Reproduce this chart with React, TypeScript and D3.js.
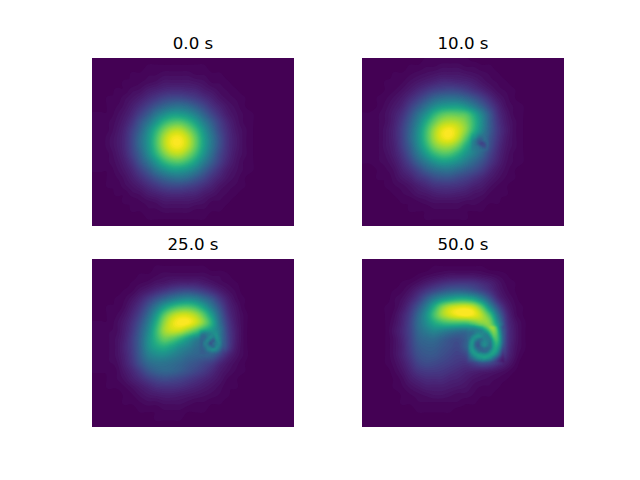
import React from "react";
import * as d3 from "d3";

// Coarse field values (percent of panel maximum).
const titles = ["0.0 s", "10.0 s", "25.0 s", "50.0 s"];

const field0 = [
[0,0,0,0,0,0,0,0,0,0,0,0,0,0,0,0,0,0,0,0,0],
[0,0,0,0,0,0,1,1,1,1,1,1,1,1,0,0,0,0,0,0,0],
[0,0,0,0,1,1,2,2,3,3,3,3,2,2,1,1,0,0,0,0,0],
[0,0,0,1,1,2,3,4,6,6,6,6,5,4,2,2,1,0,0,0,0],
[0,0,1,1,3,4,7,9,11,12,12,11,10,7,5,3,2,1,0,0,0],
[0,1,1,3,5,8,12,16,20,22,22,20,17,13,9,5,3,2,1,0,0],
[0,1,2,4,8,13,19,26,32,36,37,34,28,21,14,9,5,3,1,0,0],
[1,1,3,6,11,19,28,39,48,54,54,50,42,31,21,13,7,4,2,1,0],
[1,2,4,8,15,26,38,52,65,72,73,67,56,42,29,18,10,5,2,1,0],
[1,2,5,10,19,31,47,64,79,88,89,81,68,51,35,21,12,6,3,1,0],
[1,3,6,11,21,35,51,70,87,97,98,90,75,56,39,24,13,7,3,1,0],
[1,3,6,11,21,35,51,70,87,97,98,90,75,56,39,24,13,7,3,1,0],
[1,2,5,10,19,31,47,64,79,88,89,81,68,51,35,21,12,6,3,1,0],
[1,2,4,8,15,26,38,52,65,72,73,67,56,42,29,18,10,5,2,1,0],
[1,1,3,6,11,19,28,39,48,54,54,50,42,31,21,13,7,4,2,1,0],
[0,1,2,4,8,13,19,26,32,36,37,34,28,21,14,9,5,3,1,0,0],
[0,1,1,3,5,8,12,16,20,22,22,20,17,13,9,5,3,2,1,0,0],
[0,0,1,1,3,4,7,9,11,12,12,11,10,7,5,3,2,1,0,0,0],
[0,0,0,1,1,2,3,4,6,6,6,6,5,4,2,2,1,0,0,0,0],
[0,0,0,0,1,1,2,2,3,3,3,3,2,2,1,1,0,0,0,0,0],
[0,0,0,0,0,0,1,1,1,1,1,1,1,1,0,0,0,0,0,0,0],
[0,0,0,0,0,0,0,0,0,0,0,0,0,0,0,0,0,0,0,0,0],
];

const field10 = [
[0,0,0,0,0,0,0,1,1,1,1,1,1,0,0,0,0,0,0,0,0],
[0,0,0,0,0,1,1,2,2,3,3,3,2,2,1,1,0,0,0,0,0],
[0,0,0,1,1,2,3,4,5,6,6,6,5,4,3,2,1,0,0,0,0],
[0,0,1,1,2,4,6,8,10,12,12,11,10,8,5,3,2,1,0,0,0],
[0,0,1,2,4,7,11,15,19,21,22,21,18,14,10,6,3,2,1,0,0],
[0,1,2,4,7,12,18,25,32,36,37,36,32,26,19,12,6,3,1,0,0],
[0,1,3,6,10,18,27,37,47,53,55,55,50,41,30,19,10,4,2,1,0],
[1,2,4,8,14,24,37,50,64,73,76,75,72,60,44,27,13,6,2,1,0],
[1,2,4,9,17,29,44,61,76,86,89,87,80,66,48,29,15,7,3,1,0],
[1,2,5,10,19,32,49,68,85,96,99,93,82,64,46,29,16,8,3,1,0],
[1,2,5,10,19,33,50,69,86,96,98,90,74,54,38,26,15,7,3,1,0],
[1,2,5,9,18,30,47,64,79,86,86,78,62,47,36,24,13,6,3,1,0],
[1,2,4,8,15,26,40,54,66,72,71,63,52,42,32,20,11,5,2,1,0],
[1,2,3,6,12,20,31,41,50,55,54,49,41,33,25,16,9,4,2,1,0],
[0,1,2,4,9,14,21,29,35,38,38,34,29,24,18,11,6,3,1,0,0],
[0,1,1,3,6,9,14,18,23,25,25,22,19,15,11,7,4,2,1,0,0],
[0,0,1,2,3,5,8,11,14,15,15,14,12,9,7,4,2,1,0,0,0],
[0,0,0,1,2,3,5,6,8,9,9,8,7,5,4,2,1,1,0,0,0],
[0,0,0,0,1,1,2,3,4,4,4,4,3,3,2,1,1,0,0,0,0],
[0,0,0,0,0,1,1,1,2,2,2,2,1,1,1,0,0,0,0,0,0],
[0,0,0,0,0,0,0,1,1,1,1,1,1,0,0,0,0,0,0,0,0],
[0,0,0,0,0,0,0,0,0,0,0,0,0,0,0,0,0,0,0,0,0],
];

const field25 = [
[0,0,0,0,0,0,0,0,0,0,0,0,0,0,0,0,0,0,0,0,0],
[0,0,0,0,0,0,0,1,1,1,1,1,1,1,0,0,0,0,0,0,0],
[0,0,0,0,0,1,1,2,3,3,3,3,3,3,2,2,1,0,0,0,0],
[0,0,0,0,1,2,3,5,6,8,9,9,9,7,5,3,2,1,0,0,0],
[0,0,0,1,2,5,8,12,16,20,23,24,22,18,13,8,4,2,0,0,0],
[0,0,1,2,5,10,17,25,33,40,45,47,44,36,27,16,8,3,1,0,0],
[0,1,1,3,8,15,26,40,55,66,72,73,68,56,40,24,11,5,1,0,0],
[0,1,2,5,11,20,34,53,74,87,93,93,87,74,54,31,14,6,2,0,0],
[1,1,3,7,14,25,41,62,83,95,100,99,92,80,62,36,17,7,2,0,0],
[1,2,3,8,16,29,46,67,85,91,90,82,72,60,52,40,19,8,2,0,0],
[1,2,4,9,18,31,49,65,76,74,66,55,44,38,42,40,20,8,2,0,0],
[1,2,4,10,18,31,48,58,62,57,49,43,36,34,38,38,19,7,2,0,0],
[1,2,4,9,17,29,42,48,49,45,40,35,32,31,30,21,11,5,2,0,0],
[1,2,3,8,15,25,34,38,38,36,33,29,26,22,18,11,6,3,1,0,0],
[1,1,2,6,11,18,26,31,33,32,29,25,21,17,12,7,4,2,1,0,0],
[0,1,2,4,8,12,17,21,23,22,20,17,14,11,8,5,2,1,0,0,0],
[0,1,1,2,4,7,10,13,14,14,13,11,9,7,5,3,1,1,0,0,0],
[0,0,0,1,2,4,6,7,8,8,7,6,5,4,3,2,1,0,0,0,0],
[0,0,0,1,1,2,3,3,4,4,4,3,2,2,1,1,0,0,0,0,0],
[0,0,0,0,0,1,1,1,2,2,2,1,1,1,0,0,0,0,0,0,0],
[0,0,0,0,0,0,0,1,1,1,1,0,0,0,0,0,0,0,0,0,0],
[0,0,0,0,0,0,0,0,0,0,0,0,0,0,0,0,0,0,0,0,0],
];

const field50 = [
[0,0,0,0,0,0,0,0,0,0,0,0,0,0,0,0,0,0,0,0,0],
[0,0,0,0,0,0,0,0,1,1,1,1,1,1,1,0,0,0,0,0,0],
[0,0,0,0,0,0,1,2,3,4,5,5,5,5,4,3,2,1,0,0,0],
[0,0,0,0,1,2,4,7,10,13,15,16,16,15,12,9,5,2,1,0,0],
[0,0,0,1,2,5,10,16,22,27,31,32,31,27,21,14,7,3,1,0,0],
[0,0,0,2,4,9,17,29,42,52,58,62,62,57,44,27,12,5,2,0,0],
[0,0,1,2,6,14,26,42,62,80,90,94,95,90,74,48,24,9,3,1,0],
[0,0,1,3,9,18,33,50,70,85,93,98,100,97,88,70,38,14,4,1,0],
[0,0,1,4,10,20,35,48,60,67,70,70,70,76,82,80,50,17,6,2,0],
[0,0,1,5,11,20,33,41,46,44,40,37,36,42,58,76,68,20,7,2,0],
[0,0,1,4,10,19,30,34,35,31,27,25,30,42,48,65,66,20,7,2,0],
[0,0,1,4,9,18,27,30,30,27,24,22,30,40,40,52,55,18,6,2,0],
[0,0,1,4,9,16,24,27,27,24,21,19,22,36,50,52,36,14,5,1,0],
[0,0,1,3,7,13,20,23,22,20,18,16,15,20,25,23,16,8,3,0,0],
[0,0,0,2,5,10,15,17,17,16,14,12,10,9,8,7,5,3,1,0,0],
[0,0,0,1,3,7,10,12,12,12,10,9,7,5,4,3,2,1,0,0,0],
[0,0,0,1,2,4,6,8,8,8,7,6,5,3,2,2,1,0,0,0,0],
[0,0,0,0,1,2,3,4,5,5,4,3,3,2,1,1,0,0,0,0,0],
[0,0,0,0,1,1,2,2,2,2,2,2,1,1,0,0,0,0,0,0,0],
[0,0,0,0,0,0,1,1,1,1,1,0,0,0,0,0,0,0,0,0,0],
[0,0,0,0,0,0,0,0,0,0,0,0,0,0,0,0,0,0,0,0,0],
[0,0,0,0,0,0,0,0,0,0,0,0,0,0,0,0,0,0,0,0,0],
];

// Fine values around the vortex core of each later frame.
const core10 = [
[72,64,58,50,46,40,35,30],
[68,60,54,46,41,37,33,29],
[62,54,48,38,34,36,32,27],
[56,48,40,30,28,34,32,26],
[52,45,38,28,20,24,32,26],
[50,44,40,36,28,24,30,25],
[49,44,41,38,35,32,29,23],
[48,43,40,37,35,31,26,21],
];
const core25 = [
[72,66,62,60,58,55,48,40,32,24],
[60,55,50,50,50,50,48,42,33,24],
[45,40,38,42,45,48,50,42,33,24],
[38,34,34,42,48,42,50,44,33,24],
[35,32,38,46,36,30,46,45,33,23],
[33,31,42,40,26,36,42,46,32,22],
[32,31,38,42,38,34,46,42,30,20],
[31,30,33,42,46,48,45,36,25,17],
[30,29,30,33,36,36,33,27,20,14],
[29,28,27,28,29,28,25,21,16,11],
];
const core50 = [
[56,58,60,64,68,72,78,84,86,80,60,38,22,12],
[50,50,50,52,56,60,68,76,84,84,70,46,27,14],
[42,40,40,42,44,46,54,64,76,82,74,52,30,15],
[38,34,37,44,48,46,46,50,66,78,74,56,32,16],
[36,35,45,51,52,48,44,42,54,72,72,58,34,17],
[34,40,51,46,38,38,45,42,44,64,70,58,34,17],
[34,45,52,36,30,42,47,44,40,58,66,56,34,16],
[33,47,50,34,28,40,48,42,38,56,62,52,30,15],
[33,47,52,40,32,32,36,34,40,56,58,46,25,12],
[32,43,54,50,40,36,34,38,50,58,54,38,20,10],
[30,36,48,54,54,52,50,53,56,54,44,30,15,8],
[27,30,38,46,52,54,56,54,50,40,30,19,10,5],
[24,24,28,33,38,41,41,39,34,27,19,12,7,4],
[21,20,20,22,24,26,25,22,18,14,10,6,4,2],
];

const fields = [field0, field10, field25, field50];
const cores: (number[][] | null)[] = [null, core10, core25, core50];
const coreOrigins = [null, [106, 72], [105, 68], [103, 64]];

const W = 202, H = 168, CELL = 8, CORE_CELL = 3, FEATHER = 6;
const panelX = [92, 362, 92, 362];
const panelY = [58, 58, 259, 259];
const levels = d3.range(0.8, 100, 1.4);

function catmull(a: number, b: number, c: number, d: number, t: number) {
  return 0.5 * (2 * b + (c - a) * t + (2 * a - 5 * b + 4 * c - d) * t * t + (3 * b - a - 3 * c + d) * t * t * t);
}
function sample(g: number[][], u: number, v: number) {
  const ny = g.length, nx = g[0].length;
  const i = Math.floor(u), j = Math.floor(v), tx = u - i, ty = v - j;
  const at = (r: number, c: number) => g[Math.max(0, Math.min(ny - 1, r))][Math.max(0, Math.min(nx - 1, c))];
  const row = (r: number) => catmull(at(r, i - 1), at(r, i), at(r, i + 1), at(r, i + 2), tx);
  return catmull(row(j - 1), row(j), row(j + 1), row(j + 2), ty);
}

function buildValues(k: number) {
  const out = new Float64Array(W * H);
  const core = cores[k], org = coreOrigins[k];
  for (let y = 0; y < H; y++) {
    for (let x = 0; x < W; x++) {
      const px = x + 0.5, py = y + 0.5;
      let val = sample(fields[k], (px - 8) / CELL, py / CELL);
      if (core && org) {
        const cw = core[0].length * CORE_CELL, ch = core.length * CORE_CELL;
        const dx = px - org[0], dy = py - org[1];
        if (dx >= 0 && dy >= 0 && dx <= cw && dy <= ch) {
          const edge = Math.min(dx, dy, cw - dx, ch - dy);
          const w = d3.easeCubicInOut(Math.min(1, edge / FEATHER));
          const c = sample(core, (dx - CORE_CELL / 2) / CORE_CELL, (dy - CORE_CELL / 2) / CORE_CELL);
          val = val * (1 - w) + c * w;
        }
      }
      out[y * W + x] = Math.max(0, Math.min(100, val));
    }
  }
  return out;
}

function Panel({ k }: { k: number }) {
  const shapes = React.useMemo(() => {
    const gen = d3.contours().size([W, H]).thresholds(levels);
    return gen(Array.from(buildValues(k)));
  }, [k]);
  const path = d3.geoPath();
  const color = d3.scaleSequential(d3.interpolateViridis).domain([0, 100]);
  return (
    <g transform={`translate(${panelX[k]},${panelY[k]})`}>
      <rect width={W} height={H} fill={color(0)} />
      {shapes.map((s, i) => (
        <path key={i} d={path(s as any) ?? ""} fill={color(Math.min(100, s.value + 0.7))} />
      ))}
      <text
        x={W / 2}
        y={-9}
        textAnchor="middle"
        fontFamily="'DejaVu Sans'"
        fontSize={16.67}
        fill="#000"
      >
        {titles[k]}
      </text>
    </g>
  );
}

export default function App() {
  return (
    <svg width={640} height={480} style={{ position: "absolute", left: 0, top: 0, background: "#fff" }}>
      {titles.map((_, k) => (
        <Panel key={k} k={k} />
      ))}
    </svg>
  );
}
